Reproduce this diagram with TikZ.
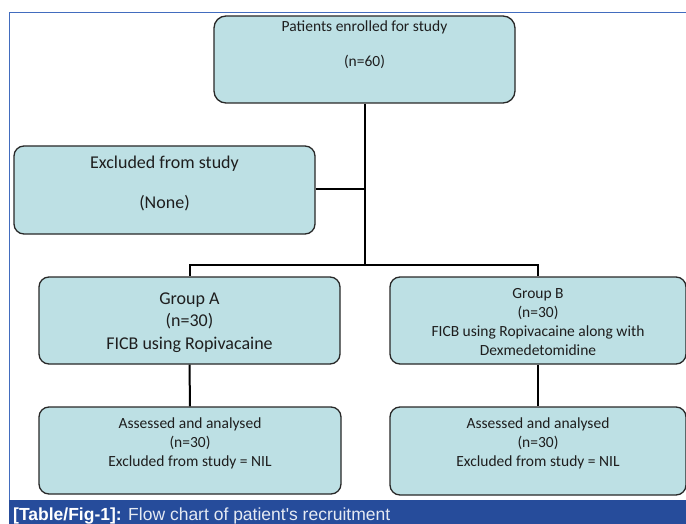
\documentclass[tikz,border=0pt]{standalone}
\usepackage{fontspec}
\setmainfont{Carlito}
\newfontfamily\capfont{Liberation Sans}
\definecolor{boxfill}{RGB}{189,224,228}
\definecolor{boxline}{RGB}{40,40,40}
\definecolor{framecol}{RGB}{66,108,190}
\definecolor{bandcol}{RGB}{38,76,155}
\definecolor{txtcol}{RGB}{30,30,30}
\tikzset{
  fbox/.style={draw=boxline, line width=1.3pt, fill=boxfill, rounded corners=10pt, inner sep=0pt},
  ftext/.style={text=txtcol, align=center, inner sep=0pt},
  link/.style={draw=black, line width=2pt},
}
\begin{document}
\begin{tikzpicture}[x=1pt,y=-1pt]
\clip (0,0) rectangle (686,524);
\fill[white] (0,0) rectangle (686,524);
% frame
\draw[framecol, line width=1pt] (686,12.5) -- (9,12.5) -- (9,500);
% band
\fill[bandcol] (8.5,499.5) rectangle (686,524);
\node[anchor=base west, text=white, inner sep=0pt] (cap) at (13,520)
  {\capfont\fontsize{17.5}{20}\selectfont\textbf{[Table/Fig-1]:} {\color{white!88!bandcol}Flow chart of patient's recruitment}};
% boxes
\node[fbox, rounded corners=12pt, minimum width=301pt, minimum height=87pt] (b0) at (364.5,59.5) {};
\node[fbox, minimum width=301pt, minimum height=88pt] (b1) at (164.5,190) {};
\node[fbox, minimum width=301pt, minimum height=87pt] (b2) at (189.5,320.5) {};
\node[fbox, minimum width=296pt, minimum height=87pt] (b3) at (538,320.5) {};
\node[fbox, minimum width=302pt, minimum height=87pt] (b4) at (190,450.5) {};
\node[fbox, minimum width=296pt, minimum height=88pt] (b5) at (538,451) {};
% texts
\node[ftext, font=\fontsize{15.5}{17.5}\selectfont] (t0) at (364.5,44.5) {Patients enrolled for study\\[17.5pt](n=60)};
\node[ftext, font=\fontsize{18}{20}\selectfont] (t1) at (164.5,183) {Excluded from study\\[20pt](None)};
\node[ftext, font=\fontsize{18}{22.5}\selectfont] (t2) at (189.5,322.5) {Group A\\(n=30)\\FICB using Ropivacaine};
\node[ftext, font=\fontsize{15.5}{19.3}\selectfont] (t3) at (538,322) {Group B\\(n=30)\\FICB using Ropivacaine along with\\Dexmedetomidine};
\node[ftext, font=\fontsize{15.5}{19}\selectfont] (t4) at (190,443) {Assessed and analysed\\(n=30)\\Excluded from study = NIL};
\node[ftext, font=\fontsize{15.5}{19}\selectfont] (t5) at (538,443) {Assessed and analysed\\(n=30)\\Excluded from study = NIL};
% connectors
\coordinate (j0) at (b0.south |- 0,189);
\coordinate (j1) at (b0.south |- 0,265);
\coordinate (jl) at (b2.north |- 0,265);
\coordinate (jr) at (b3.north |- 0,265);
\draw[link] (b0.south) -- (j1);
\draw[link] (b1.east |- j0) -- (j0);
\draw[link, line cap=rect] (jl) -- (jr);
\draw[link] (jl) -- (b2.north);
\draw[link] (jr) -- (b3.north);
\draw[link] (b2.south) -- (b4.north);
\draw[link] (b3.south) -- (b5.north);
\end{tikzpicture}
\end{document}
